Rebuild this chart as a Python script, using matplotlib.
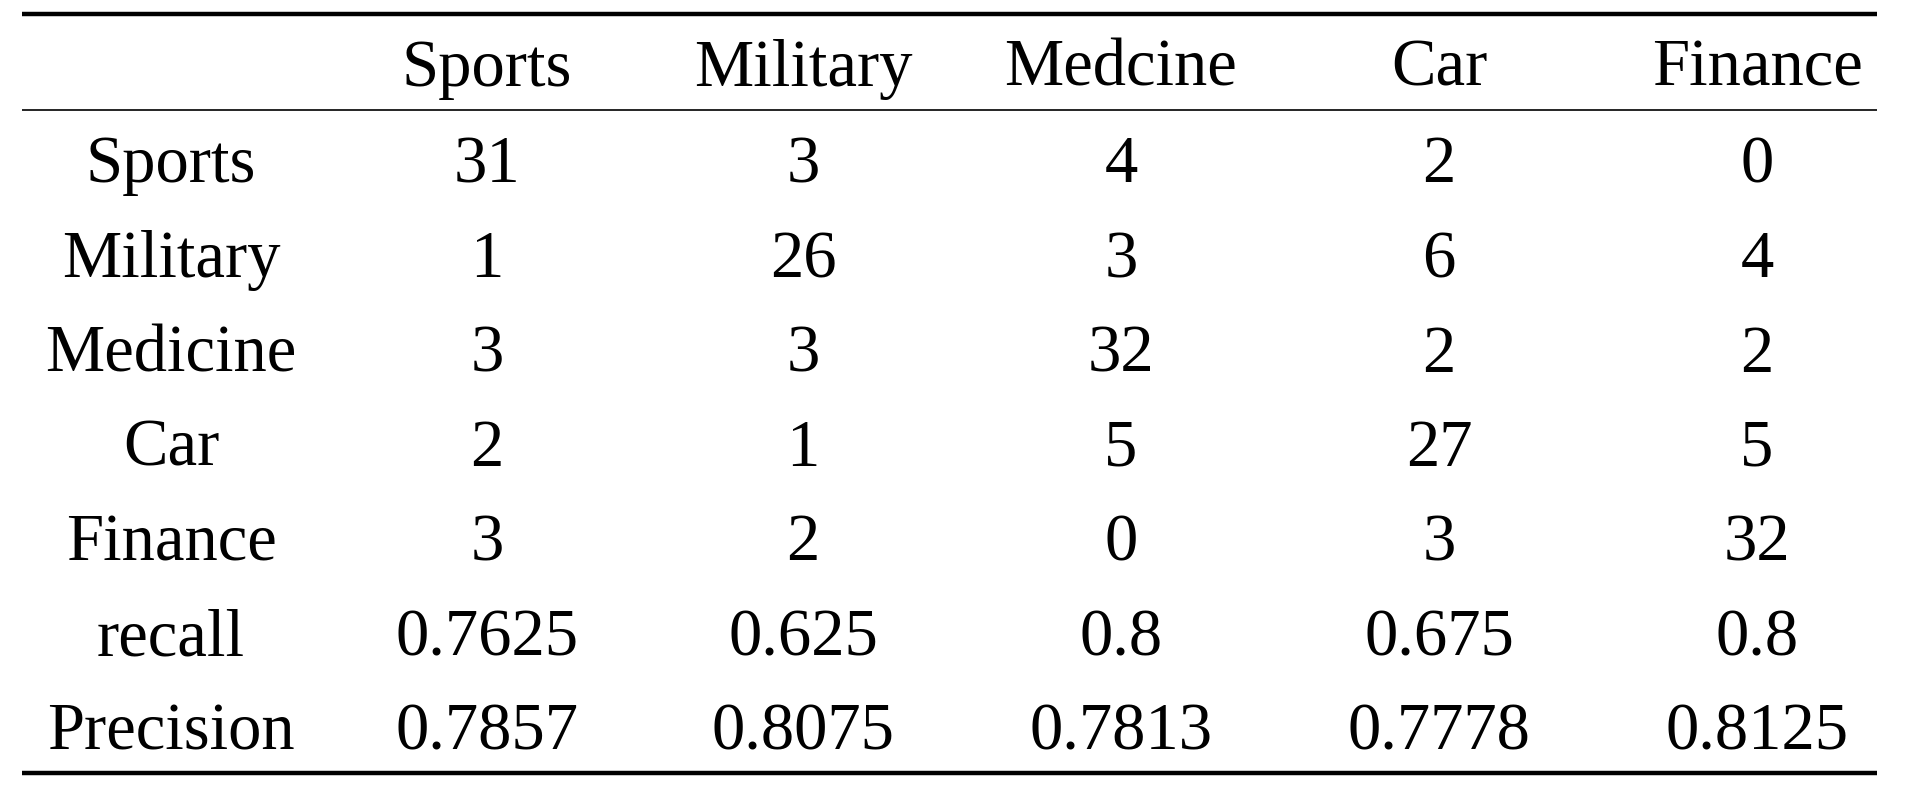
import matplotlib.pyplot as plt

# Confusion matrix of the text classifier
columns = ["Sports", "Military", "Medcine", "Car", "Finance"]
row_labels = ["Sports", "Military", "Medicine", "Car", "Finance"]
counts = [
    [31, 3, 4, 2, 0],
    [1, 26, 3, 6, 4],
    [3, 3, 32, 2, 2],
    [2, 1, 5, 27, 5],
    [3, 2, 0, 3, 32],
]
recall = ["0.7625", "0.625", "0.8", "0.675", "0.8"]
precision = ["0.7857", "0.8075", "0.7813", "0.7778", "0.8125"]

plt.rcParams["font.family"] = ["Liberation Serif", "DejaVu Serif"]

fig = plt.figure(figsize=(19.18, 7.9), dpi=100)
ax = fig.add_axes([0, 0, 1, 1])
ax.set_xlim(0, 1918)
ax.set_ylim(790, 0)
ax.axis("off")

# layout in pixels
label_x = 171
col_x = [487, 803, 1121, 1439, 1757]
header_y = 69
first_row_y = 166
row_step = 94.5
fs = 48

for cx, name in zip(col_x, columns):
    ax.text(cx, header_y, name, ha="center", va="center", fontsize=fs)

body = [[str(v) for v in r] for r in counts] + [recall, precision]
names = row_labels + ["recall", "Precision"]
for i, (name, vals) in enumerate(zip(names, body)):
    y = first_row_y + i * row_step
    ax.text(label_x, y, name, ha="center", va="center", fontsize=fs)
    for cx, v in zip(col_x, vals):
        ax.text(cx, y, v, ha="center", va="center", fontsize=fs)

# booktabs style rules
ax.plot([22, 1877], [14, 14], color="black", lw=3.2, solid_capstyle="butt")
ax.plot([22, 1877], [110, 110], color="black", lw=1.2, solid_capstyle="butt")
ax.plot([22, 1877], [773, 773], color="black", lw=3.2, solid_capstyle="butt")

plt.savefig("out.png", dpi=100)
